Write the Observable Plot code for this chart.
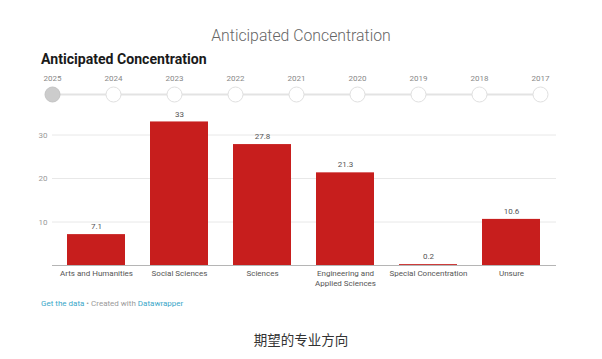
<!DOCTYPE html>
<html>
<head>
<meta charset="utf-8">
<script src="https://cdn.jsdelivr.net/npm/d3@7"></script>
<script src="https://cdn.jsdelivr.net/npm/@observablehq/plot@0.6"></script>
<style>
  html, body { margin: 0; padding: 0; background: #fff; }
  #page { position: relative; width: 602px; height: 359px; overflow: hidden; font-family: Roboto, "Noto Sans", sans-serif; }
  .abs { position: absolute; }
  #toptitle { left: 0; width: 602px; top: 25px; text-align: center; font-size: 15.8px; font-weight: 300; color: #666; line-height: 22px; }
  #title { left: 41px; top: 50px; font-size: 14.1px; font-weight: 700; color: #1a1a1a; line-height: 18px; }
  #timeline { left: 0; top: 73px; }
  #chart { left: 0; top: 100px; }
  #footer { left: 41px; top: 298px; font-size: 8px; color: #9a9a9a; line-height: 11px; }
  #footer .lnk { color: #3aa7c9; }
  #caption { left: 0; width: 602px; top: 330px; text-align: center; font-family: "Noto Sans CJK SC", sans-serif; font-size: 13.5px; color: #333; line-height: 18px; }
</style>
</head>
<body>
<div id="page">
  <div id="toptitle" class="abs">Anticipated Concentration</div>
  <div id="title" class="abs">Anticipated Concentration</div>
  <div id="timeline" class="abs"></div>
  <div id="chart" class="abs"></div>
  <div id="footer" class="abs"><span class="lnk">Get the data</span> • Created with <span class="lnk">Datawrapper</span></div>
  <div id="caption" class="abs">期望的专业方向</div>
</div>
<script>
const years = ["2025", "2024", "2023", "2022", "2021", "2020", "2019", "2018", "2017"];
const selectedYear = "2025";
const categories = ["Arts and Humanities", "Social Sciences", "Sciences", "Engineering and Applied Sciences", "Special Concentration", "Unsure"];
const values = [7.1, 33, 27.8, 21.3, 0.2, 10.6];
const yTicks = [10, 20, 30];

const rows = categories.map((c, i) => ({category: c, value: values[i]}));
const yearRows = years.map(y => ({year: y}));

const timeline = Plot.plot({
  width: 602,
  height: 32,
  marginLeft: 50,
  marginRight: 60,
  marginTop: 0,
  marginBottom: 0,
  style: {fontFamily: "Roboto, sans-serif", background: "transparent"},
  x: {type: "point", domain: years, padding: 0, axis: null},
  y: {domain: [0, 1], range: [21, 5], axis: null},
  marks: [
    Plot.line(yearRows, {x: "year", y: () => 0, stroke: "#e3e3e3", strokeWidth: 2}),
    Plot.dot(yearRows, {x: "year", y: () => 0, r: 7.5,
      fill: d => d.year === selectedYear ? "#cccccc" : "#ffffff",
      stroke: d => d.year === selectedYear ? "#c4c4c4" : "#e0e0e0", strokeWidth: 1}),
    Plot.text(yearRows, {x: "year", y: () => 1, text: "year", fontSize: 8, fill: "#888"})
  ]
});
document.getElementById("timeline").appendChild(timeline);

const chart = Plot.plot({
  width: 602,
  height: 200,
  marginLeft: 52,
  marginRight: 46,
  marginTop: 12.75,
  marginBottom: 35,
  style: {fontFamily: "Roboto, sans-serif", fontSize: "8px", background: "transparent"},
  x: {domain: categories, paddingInner: 0.3, paddingOuter: 0.16, label: null},
  y: {domain: [0, 35], label: null},
  marks: [
    Plot.ruleY(yTicks, {stroke: "#e8e8e8", strokeWidth: 1}),
    Plot.barY(rows, {x: "category", y: "value", fill: "#c71e1d"}),
    Plot.ruleY([0], {stroke: "#b5b5b5", strokeWidth: 1}),
    Plot.text(rows, {x: "category", y: "value", text: d => String(d.value), dy: -8, fontSize: 8, fill: "#555"}),
    Plot.axisY({ticks: yTicks, tickSize: 0, tickPadding: 5, fill: "#999", fontSize: 8, label: null}),
    Plot.axisX({tickSize: 0, tickPadding: 3, fill: "#555", fontSize: 8, lineHeight: 1.25, label: null,
      tickFormat: d => d === "Engineering and Applied Sciences" ? "Engineering and\nApplied Sciences" : d})
  ]
});
document.getElementById("chart").appendChild(chart);
</script>
</body>
</html>
